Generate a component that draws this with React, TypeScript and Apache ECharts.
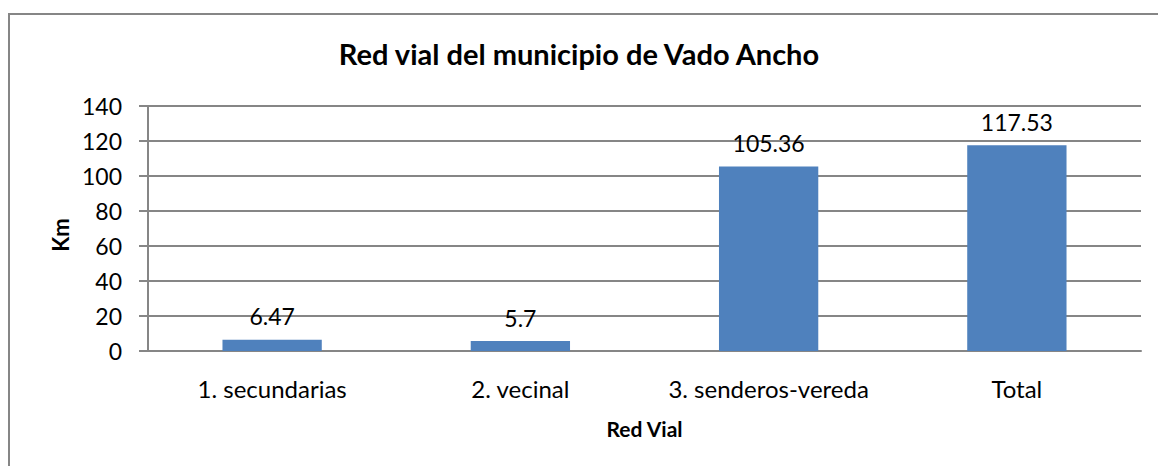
import React, { useEffect, useRef } from "react";
import * as echarts from "echarts";

const categories = ["1. secundarias", "2. vecinal", "3. senderos-vereda", "Total"];
const values = [6.47, 5.7, 105.36, 117.53];
const title = "Red vial del municipio de Vado Ancho";
const xName = "Red Vial";
const yName = "Km";

const FONT = "Lato, 'Open Sans', sans-serif";

export default function App() {
  const ref = useRef<HTMLDivElement>(null);
  useEffect(() => {
    if (!ref.current) return;
    const chart = echarts.init(ref.current, null, { renderer: "svg" });
    chart.setOption({
      animation: false,
      backgroundColor: "#ffffff",
      title: {
        text: title,
        left: "center",
        top: 34,
        textStyle: { fontFamily: FONT, fontSize: 29, fontWeight: "bold", color: "#000" },
      },
      graphic: [
        {
          type: "rect",
          shape: { x: 9, y: 14, width: 1160, height: 470 },
          style: { fill: "none", stroke: "#868686", lineWidth: 2 },
          silent: true,
        },
        {
          type: "text",
          x: 60,
          y: 235,
          rotation: Math.PI / 2,
          style: {
            text: yName,
            fontFamily: FONT,
            fontSize: 22,
            fontWeight: "bold",
            fill: "#000",
            align: "center",
            verticalAlign: "middle",
          },
          silent: true,
        },
      ],
      grid: { left: 148, right: 17, top: 106, bottom: 115, containLabel: false },
      xAxis: {
        type: "category",
        data: categories,
        name: xName,
        nameLocation: "middle",
        nameGap: 67,
        nameTextStyle: { fontFamily: FONT, fontSize: 21, fontWeight: "bold", color: "#000" },
        axisLine: { lineStyle: { color: "#868686", width: 2 } },
        axisTick: { show: false },
        axisLabel: { interval: 0, fontFamily: FONT, fontSize: 24, color: "#000", margin: 25 },
      },
      yAxis: {
        type: "value",
        min: 0,
        max: 140,
        interval: 20,
        axisLine: { show: true, lineStyle: { color: "#868686", width: 2 } },
        axisTick: { show: true, inside: false, length: 9, lineStyle: { color: "#868686", width: 2 } },
        axisLabel: { fontFamily: FONT, fontSize: 23, color: "#000", margin: 26 },
        splitLine: { lineStyle: { color: "#868686", width: 2 } },
      },
      series: [
        {
          type: "bar",
          data: values,
          barWidth: "40%",
          itemStyle: { color: "#4F81BD" },
          label: {
            show: true,
            position: "top",
            distance: 12,
            fontFamily: FONT,
            fontSize: 23,
            color: "#000",
          },
        },
      ],
    });
    return () => chart.dispose();
  }, []);
  return (
    <div
      ref={ref}
      style={{ position: "fixed", left: 0, top: 0, width: 1158, height: 466 }}
    />
  );
}
